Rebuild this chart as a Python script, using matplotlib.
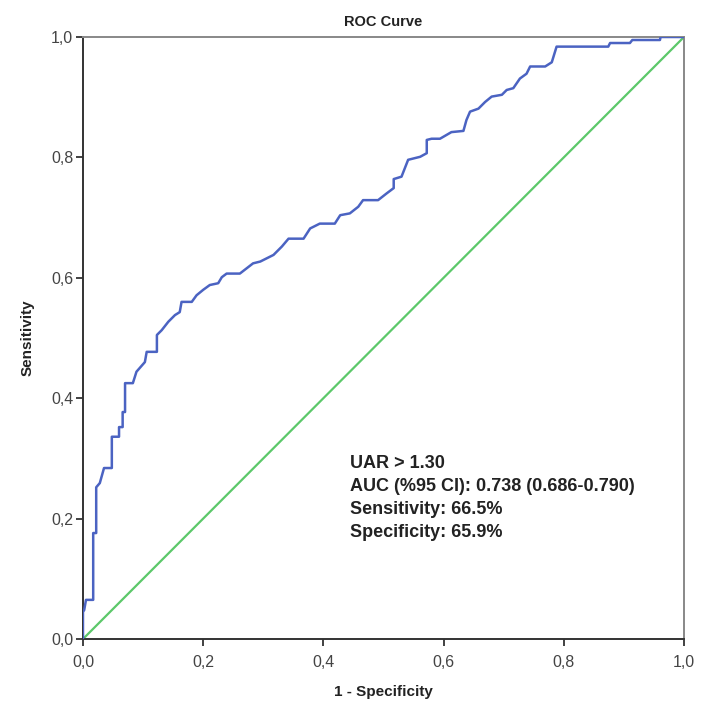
import matplotlib
matplotlib.use("Agg")
import matplotlib.pyplot as plt
from matplotlib.ticker import FuncFormatter

# ROC curve (1 - specificity, sensitivity)
fpr = [0.000, 0.000, 0.002, 0.005, 0.017, 0.017, 0.022, 0.022, 0.028, 0.035,
       0.048, 0.048, 0.060, 0.060, 0.066, 0.066, 0.070, 0.070, 0.083, 0.089,
       0.103, 0.106, 0.123, 0.123, 0.131, 0.142, 0.153, 0.161, 0.164, 0.181,
       0.189, 0.200, 0.211, 0.225, 0.231, 0.239, 0.261, 0.283, 0.295, 0.317,
       0.331, 0.342, 0.367, 0.378, 0.394, 0.419, 0.428, 0.444, 0.458, 0.466,
       0.491, 0.505, 0.517, 0.517, 0.530, 0.541, 0.561, 0.572, 0.572, 0.580,
       0.594, 0.613, 0.633, 0.638, 0.644, 0.658, 0.669, 0.680, 0.697, 0.705,
       0.716, 0.727, 0.738, 0.744, 0.769, 0.780, 0.788, 0.874, 0.877, 0.910,
       0.914, 0.960, 0.961, 1.000]
tpr = [0.000, 0.045, 0.048, 0.065, 0.065, 0.176, 0.176, 0.252, 0.259, 0.284,
       0.284, 0.336, 0.336, 0.352, 0.352, 0.377, 0.377, 0.425, 0.425, 0.444,
       0.460, 0.477, 0.477, 0.505, 0.513, 0.527, 0.538, 0.543, 0.560, 0.560,
       0.571, 0.580, 0.588, 0.591, 0.601, 0.607, 0.607, 0.624, 0.627, 0.638,
       0.652, 0.665, 0.665, 0.682, 0.690, 0.690, 0.704, 0.707, 0.718, 0.729,
       0.729, 0.740, 0.749, 0.764, 0.768, 0.796, 0.801, 0.807, 0.829, 0.831,
       0.831, 0.842, 0.844, 0.862, 0.876, 0.881, 0.892, 0.901, 0.904, 0.912,
       0.915, 0.931, 0.939, 0.951, 0.951, 0.958, 0.984, 0.984, 0.990, 0.990,
       0.995, 0.995, 1.000, 1.000]
ref_line = [0.0, 1.0]
ticks = [0.0, 0.2, 0.4, 0.6, 0.8, 1.0]
summary = ["UAR > 1.30",
           "AUC (%95 CI): 0.738 (0.686-0.790)",
           "Sensitivity: 66.5%",
           "Specificity: 65.9%"]

plt.rcParams['font.family'] = ['Liberation Sans', 'DejaVu Sans']

fig = plt.figure(figsize=(7.08, 7.06), dpi=100)
ax = fig.add_axes([0.1172, 0.0949, 0.8489, 0.8527])

ax.plot(ref_line, ref_line, color='#5cc86a', linewidth=1.6, zorder=2)
ax.plot(fpr, tpr, color='#4b63c2', linewidth=1.8, zorder=3)

ax.set_xlim(0, 1)
ax.set_ylim(0, 1)
ax.set_xticks(ticks)
ax.set_yticks(ticks)
comma = FuncFormatter(lambda v, p: f"{v:.1f}".replace('.', ','))
ax.xaxis.set_major_formatter(comma)
ax.yaxis.set_major_formatter(comma)
ax.tick_params(direction='out', length=5, width=1.3, color='#333333',
               labelsize=11.5, labelcolor='#444444')
ax.tick_params(axis='x', pad=6.5)
ax.tick_params(axis='y', pad=2)

for side in ['left', 'bottom']:
    ax.spines[side].set_color('#333333')
    ax.spines[side].set_linewidth(1.4)
for side in ['top', 'right']:
    ax.spines[side].set_color('#888888')
    ax.spines[side].set_linewidth(1.4)

ax.set_title('ROC Curve', fontsize=10.5, fontweight='bold', color='#222222', pad=8)
ax.set_xlabel('1 - Specificity', fontsize=11, fontweight='bold', color='#222222', labelpad=11)
ax.set_ylabel('Sensitivity', fontsize=11, fontweight='bold', color='#222222', labelpad=12)

ax.text(0.444, 0.306, "\n".join(summary), fontsize=13, fontweight='bold',
        color='#222222', va='top', ha='left', linespacing=1.46)

fig.savefig('out.png', dpi=100)
